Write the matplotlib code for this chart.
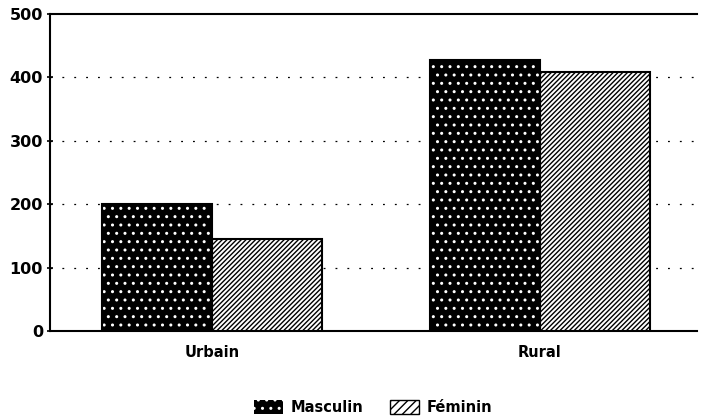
import matplotlib.pyplot as plt
import numpy as np
from matplotlib.patches import Patch

plt.rcParams['font.family'] = ['DejaVu Sans']
plt.rcParams['font.weight'] = 'bold'
plt.rcParams['hatch.linewidth'] = 1.0

categories = ["Urbain", "Rural"]
masculin = [200, 427]
feminin = [145, 408]
yticks = [0, 100, 200, 300, 400, 500]

fig = plt.figure(figsize=(7.01, 4.19), dpi=100)
ax = fig.add_axes([50/701, 1 - 331/419, 647/701, 317/419])

x = np.arange(len(categories))
w = 0.335

# speckled dark bars: black face, white dot hatch, then black outline
ax.bar(x - w/2, masculin, w, color="black", edgecolor="white", hatch="..", linewidth=0, zorder=3)
ax.bar(x - w/2, masculin, w, fill=False, edgecolor="black", linewidth=1.5, zorder=4)
ax.bar(x + w/2, feminin, w, color="white", edgecolor="black", hatch="///////", linewidth=1.5, zorder=3)

ax.set_xlim(-0.494, 1.479)
ax.set_ylim(0, 500)
ax.set_yticks(yticks)
ax.set_yticklabels([str(t) for t in yticks], fontsize=11.5, fontweight="heavy")
ax.set_xticks(x)
ax.set_xticklabels(categories, fontsize=10.5, fontweight="heavy")
ax.tick_params(axis="x", length=0, pad=10)
ax.tick_params(axis="y", length=4, width=1.2, direction="inout", pad=3)

for t in yticks[1:-1]:
    ax.axhline(t, color="black", linestyle=(0, (1.5, 8)), linewidth=0.9, zorder=1)

ax.spines["right"].set_visible(False)
for s in ["left", "top", "bottom"]:
    ax.spines[s].set_linewidth(1.5)

handles = [
    Patch(facecolor="black", edgecolor="white", hatch="..", linewidth=0, label="Masculin"),
    Patch(facecolor="white", edgecolor="black", hatch="////", label="Féminin"),
]
fig.legend(handles=handles, loc="center", bbox_to_anchor=(373/701, 1 - 407/419), ncol=2,
           frameon=False, fontsize=10.5, handlelength=2.0, handleheight=1.1,
           columnspacing=1.8, handletextpad=0.5)

fig.savefig("out.png", dpi=100)
